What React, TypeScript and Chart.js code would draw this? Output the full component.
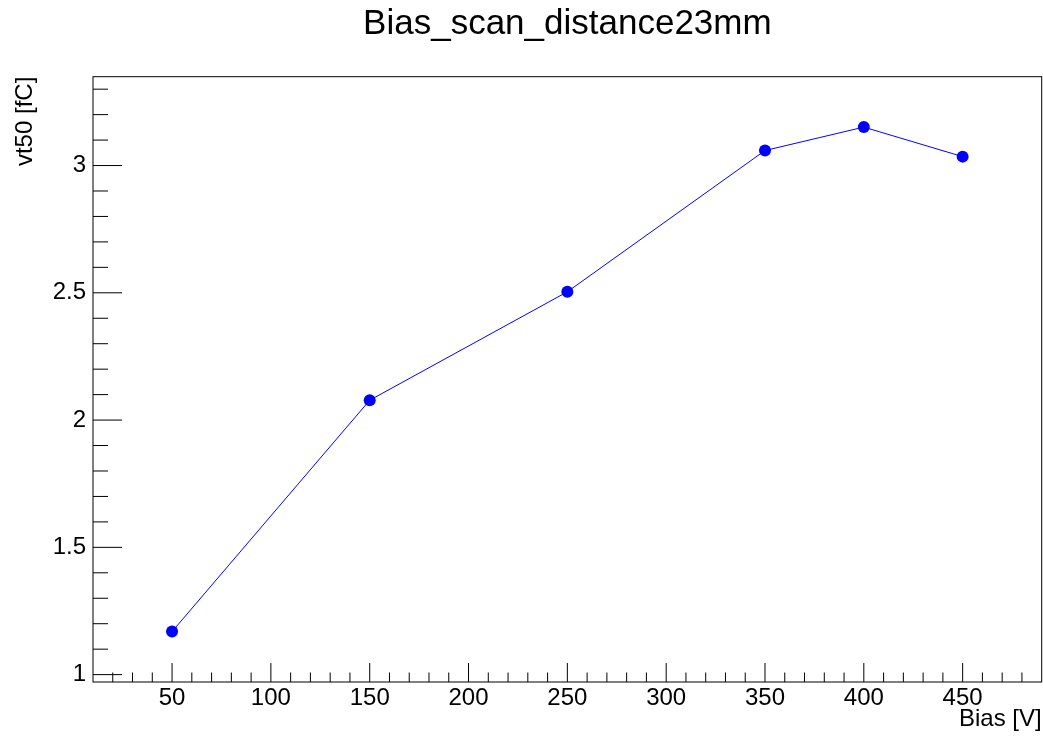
import React, { useEffect, useRef } from "react";
import { Chart, registerables } from "chart.js";

Chart.register(...registerables);

const titleText = "Bias_scan_distance23mm";
const xTitle = "Bias [V]";
const yTitle = "vt50 [fC]";

const biasValues = [50, 150, 250, 350, 400, 450];
const vt50Values = [1.169, 2.078, 2.504, 3.059, 3.151, 3.035];

const xRange = [10, 490];
const yRange = [0.971, 3.349];

const xMajorTicks = [50, 100, 150, 200, 250, 300, 350, 400, 450];
const xTickLabels = ["50", "100", "150", "200", "250", "300", "350", "400", "450"];
const xMinorTicks = [
  20, 30, 40, 60, 70, 80, 90, 110, 120, 130, 140, 160, 170, 180, 190, 210, 220, 230, 240,
  260, 270, 280, 290, 310, 320, 330, 340, 360, 370, 380, 390, 410, 420, 430, 440, 460, 470, 480,
];
const yMajorTicks = [1, 1.5, 2, 2.5, 3];
const yTickLabels = ["1", "1.5", "2", "2.5", "3"];
const yMinorTicks = [
  1.1, 1.2, 1.3, 1.4, 1.6, 1.7, 1.8, 1.9, 2.1, 2.2, 2.3, 2.4, 2.6, 2.7, 2.8, 2.9, 3.1, 3.2, 3.3,
];

const FONT = "'Liberation Sans', Arial, Helvetica, sans-serif";

const rootAxesPlugin = {
  id: "rootAxes",
  beforeDatasetsDraw(chart: any) {
    const { ctx, chartArea: a, scales } = chart;
    const xs = scales.x;
    const ys = scales.y;
    ctx.save();
    ctx.strokeStyle = "#000";
    ctx.lineWidth = 1;
    ctx.beginPath();
    xMajorTicks.forEach((v) => {
      const p = xs.getPixelForValue(v);
      ctx.moveTo(p, a.bottom);
      ctx.lineTo(p, a.bottom - 19);
    });
    xMinorTicks.forEach((v) => {
      const p = xs.getPixelForValue(v);
      ctx.moveTo(p, a.bottom);
      ctx.lineTo(p, a.bottom - 9.5);
    });
    yMajorTicks.forEach((v) => {
      const p = ys.getPixelForValue(v);
      ctx.moveTo(a.left, p);
      ctx.lineTo(a.left + 29, p);
    });
    yMinorTicks.forEach((v) => {
      const p = ys.getPixelForValue(v);
      ctx.moveTo(a.left, p);
      ctx.lineTo(a.left + 15, p);
    });
    ctx.stroke();
    ctx.strokeRect(a.left, a.top, a.right - a.left, a.bottom - a.top);
    ctx.restore();
  },
};

export default function App() {
  const canvasRef = useRef<HTMLCanvasElement | null>(null);

  useEffect(() => {
    if (!canvasRef.current) return;
    const points = biasValues.map((x, i) => ({ x, y: vt50Values[i] }));
    const chart = new Chart(canvasRef.current, {
      type: "scatter",
      data: {
        datasets: [
          {
            data: points,
            showLine: true,
            borderColor: "#0000ff",
            borderWidth: 1,
            backgroundColor: "#0000ff",
            pointBackgroundColor: "#0000ff",
            pointBorderColor: "#0000ff",
            pointBorderWidth: 0,
            pointRadius: 6,
            pointHoverRadius: 6,
            tension: 0,
          },
        ],
      },
      options: {
        responsive: false,
        animation: false,
        devicePixelRatio: 1,
        layout: { autoPadding: false, padding: { left: 0, top: 0, bottom: 0, right: 1.3 } },
        plugins: {
          legend: { display: false },
          tooltip: { enabled: false },
          title: {
            display: true,
            text: titleText,
            fullSize: false,
            color: "#000",
            font: { family: FONT, size: 35, weight: "normal", lineHeight: 1.2 },
            padding: { top: 3, bottom: 31.7 },
          },
        },
        scales: {
          x: {
            type: "linear",
            min: xRange[0],
            max: xRange[1],
            bounds: "data",
            afterBuildTicks: (s: any) => {
              s.ticks = xMajorTicks.map((v) => ({ value: v }));
            },
            afterFit: (s: any) => {
              s.height = 55;
              s.paddingLeft = 0;
              s.paddingRight = 0;
            },
            grid: { display: false, drawTicks: false },
            border: { display: false },
            ticks: {
              autoSkip: false,
              maxRotation: 0,
              minRotation: 0,
              padding: 2,
              color: "#000",
              font: { family: FONT, size: 24 },
              callback: (_v: any, i: number) => xTickLabels[i],
            },
            title: {
              display: true,
              text: xTitle,
              align: "end",
              color: "#000",
              font: { family: FONT, size: 24 },
              padding: { top: 0, bottom: 2.9 },
            },
          },
          y: {
            type: "linear",
            min: yRange[0],
            max: yRange[1],
            bounds: "data",
            afterBuildTicks: (s: any) => {
              s.ticks = yMajorTicks.map((v) => ({ value: v }));
            },
            afterFit: (s: any) => {
              s.width = 93;
              s.paddingTop = 0;
              s.paddingBottom = 0;
            },
            grid: { display: false, drawTicks: false },
            border: { display: false },
            ticks: {
              autoSkip: false,
              padding: 7,
              color: "#000",
              font: { family: FONT, size: 24 },
              callback: (_v: any, i: number) => yTickLabels[i],
            },
            title: {
              display: true,
              text: yTitle,
              align: "end",
              color: "#000",
              font: { family: FONT, size: 24 },
              padding: { top: 11.1, bottom: 0 },
            },
          },
        },
      },
      plugins: [rootAxesPlugin],
    } as any);
    return () => chart.destroy();
  }, []);

  return (
    <div style={{ position: "fixed", left: 0, top: 0, width: 1043, height: 737, background: "#fff" }}>
      <canvas ref={canvasRef} width={1043} height={737} style={{ display: "block" }} />
    </div>
  );
}
